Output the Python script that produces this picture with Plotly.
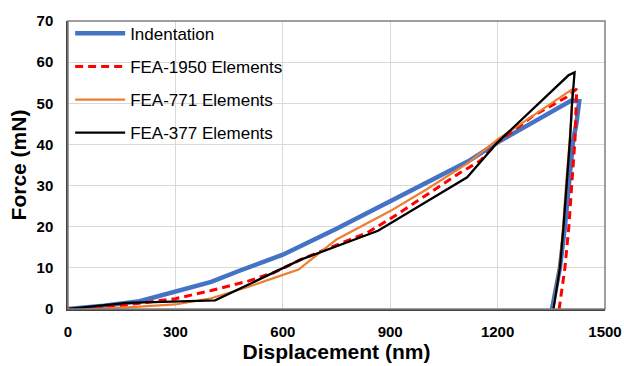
import plotly.graph_objects as go

# Indentation (experiment)
ind_x = [0, 100, 200, 300, 400, 479, 600, 750, 900, 1000, 1118, 1200, 1300, 1407, 1428,
         1420, 1411, 1400, 1388, 1374, 1352]
ind_y = [0, 0.8, 1.9, 4.2, 6.6, 9.3, 13.2, 19.5, 26.2, 30.7, 35.9, 40.5, 45.5, 50.7, 50.5,
         45, 41, 30, 20, 10, 0]

# FEA-1950 Elements
f1950_x = [0, 100, 164, 300, 400, 500, 574, 650, 714, 835, 909, 1011, 1095, 1151, 1200, 1300, 1393, 1421,
           1418, 1416, 1407, 1399, 1388, 1372]
f1950_y = [0, 0.4, 1.0, 2.5, 4.5, 6.7, 8.8, 12.0, 14.3, 18.5, 22.4, 28.2, 33.1, 36.0, 40.5, 47.0, 51.5, 53.5,
           45, 41, 30, 20, 10, 0]

# FEA-771 Elements
f771_x = [0, 100, 200, 300, 400, 500, 574, 644, 750, 900, 1000, 1118, 1200, 1300, 1410,
          1405, 1400, 1391, 1383, 1373, 1355]
f771_y = [0, 0.1, 0.6, 1.1, 2.6, 5.3, 7.5, 9.6, 16.9, 23.8, 29.0, 35.5, 41.2, 47.0, 53.5,
          45, 40, 30, 20, 10, 0]

# FEA-377 Elements
f377_x = [0, 165, 411, 650, 866, 1115, 1200, 1398, 1415, 1408, 1402, 1393, 1384, 1374, 1356]
f377_y = [0, 1.5, 2.1, 12.0, 19.0, 32.0, 40.5, 56.8, 57.5, 50, 41, 30, 20, 10, 0]

x_ticks = [0, 300, 600, 900, 1200, 1500]
y_ticks = [0, 10, 20, 30, 40, 50, 60, 70]

FONT = "Liberation Sans, Arial, sans-serif"

fig = go.Figure()
fig.add_trace(go.Scatter(x=ind_x, y=ind_y, mode="lines", name="Indentation", legendgroup="a",
                         line=dict(color="#4472C4", width=4.5)))
fig.add_trace(go.Scatter(x=f1950_x, y=f1950_y, mode="lines", name="FEA-1950 Elements", legendgroup="b",
                         line=dict(color="#FF0000", width=3, dash="8px,5px")))
fig.add_trace(go.Scatter(x=f771_x, y=f771_y, mode="lines", name="FEA-771 Elements", legendgroup="c",
                         line=dict(color="#ED7D31", width=2.2)))
fig.add_trace(go.Scatter(x=f377_x, y=f377_y, mode="lines", name="FEA-377 Elements", legendgroup="d",
                         line=dict(color="#000000", width=2.3)))

fig.update_layout(
    width=624, height=366,
    margin=dict(l=68, r=19, t=21, b=57, autoexpand=False),
    paper_bgcolor="white", plot_bgcolor="white",
    font=dict(family=FONT, color="#000000"),
    legend=dict(x=0.004, y=1.018, xanchor="left", yanchor="top",
                bgcolor="rgba(255,255,255,0)", font=dict(size=17, family=FONT),
                traceorder="grouped", tracegroupgap=8, itemwidth=50),
    xaxis=dict(range=[0, 1500], tickvals=x_ticks, showgrid=True, gridcolor="#d9d9d9", gridwidth=1,
               showline=True, linecolor="#404040", linewidth=1.5, zeroline=False, automargin=False,
               tickfont=dict(size=15, family=FONT, weight="bold"), ticklabelstandoff=8,
               title=dict(text="Displacement (nm)", font=dict(size=21, family=FONT, weight="bold"), standoff=6)),
    yaxis=dict(range=[0, 70], tickvals=y_ticks, showgrid=True, gridcolor="#d9d9d9", gridwidth=1,
               showline=True, linecolor="#404040", linewidth=1.5, zeroline=False, automargin=False,
               tickfont=dict(size=15, family=FONT, weight="bold"), ticklabelstandoff=10,
               title=dict(text="Force (mN)", font=dict(size=21, family=FONT, weight="bold"), standoff=4)),
    shapes=[dict(type="rect", xref="paper", yref="paper", x0=0, y0=0, x1=1, y1=1,
                 line=dict(color="#808080", width=1.5), layer="above")],
)

fig.write_html("out.html", config={"displayModeBar": False},
               post_script="document.body.style.margin='0';document.body.style.overflow='hidden';")
